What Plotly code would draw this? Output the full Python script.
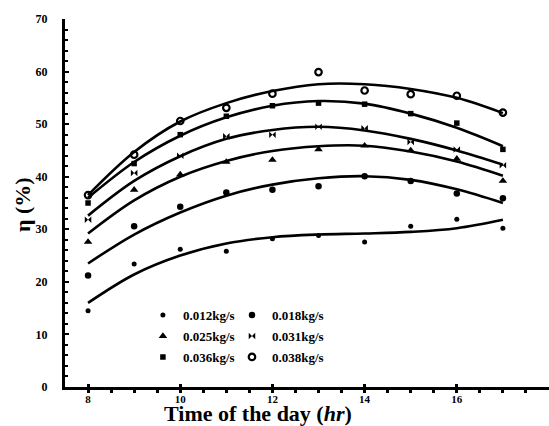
import plotly.graph_objects as go

hours = [8, 9, 10, 11, 12, 13, 14, 15, 16, 17]
series_names = ["0.012kg/s", "0.018kg/s", "0.025kg/s", "0.031kg/s", "0.036kg/s", "0.038kg/s"]

# measured efficiency points (%)
eta_012 = [14.5, 23.4, 26.2, 25.8, 28.2, 28.8, 27.6, 30.6, 31.9, 30.2]
eta_018 = [21.2, 30.6, 34.3, 37.0, 37.5, 38.2, 40.1, 39.2, 36.8, 35.9]
eta_025 = [27.6, 37.5, 40.4, 42.8, 43.2, 45.2, 45.9, 45.0, 43.4, 39.2]
eta_031 = [31.8, 40.7, 44.0, 47.7, 48.0, 49.5, 49.2, 46.6, 45.2, 42.2]
eta_036 = [35.0, 42.5, 48.0, 51.5, 53.5, 54.0, 53.8, 52.0, 50.2, 45.2]
eta_038 = [36.5, 44.2, 50.6, 53.1, 55.8, 59.9, 56.4, 55.7, 55.4, 52.2]

# fitted trend curves (%)
fit_012 = [16.0, 21.4, 25.0, 27.3, 28.5, 29.0, 29.2, 29.5, 30.2, 31.8]
fit_018 = [23.5, 29.0, 33.2, 36.4, 38.5, 39.7, 40.1, 39.4, 37.6, 35.0]
fit_025 = [29.2, 35.5, 40.0, 43.0, 44.9, 45.8, 45.9, 44.8, 42.9, 40.2]
fit_031 = [32.6, 39.2, 43.9, 47.2, 48.9, 49.5, 48.8, 47.2, 45.0, 42.3]
fit_036 = [36.0, 42.8, 47.8, 51.3, 53.5, 54.4, 53.9, 52.0, 49.3, 45.8]
fit_038 = [36.5, 44.7, 50.5, 54.0, 56.3, 57.6, 57.6, 56.7, 55.0, 52.1]

y_ticks = [0, 10, 20, 30, 40, 50, 60, 70]
x_ticks = [8, 10, 12, 14, 16]

points = [eta_012, eta_018, eta_025, eta_031, eta_036, eta_038]
fits = [fit_012, fit_018, fit_025, fit_031, fit_036, fit_038]

styles = [
    dict(symbol="circle", size=5, color="black", line=dict(width=0)),
    dict(symbol="circle", size=6.5, color="black", line=dict(width=0)),
    dict(symbol="triangle-up", size=7.5, color="black", line=dict(width=0)),
    dict(symbol="bowtie", size=6.5, color="black", line=dict(width=0)),
    dict(symbol="square", size=5.5, color="black", line=dict(width=0)),
    dict(symbol="circle-open", size=6.5, color="black", line=dict(width=2.2, color="black")),
]
legends = ["legend", "legend2", "legend", "legend2", "legend", "legend2"]

SERIF = "Liberation Serif, Times New Roman, serif"

fig = go.Figure()
for name, fit in zip(series_names, fits):
    fig.add_trace(go.Scatter(
        x=hours, y=fit, mode="lines", showlegend=False, hoverinfo="skip",
        line=dict(color="black", width=2.6, shape="spline", smoothing=1.0),
    ))
for i, (name, pts) in enumerate(zip(series_names, points)):
    fig.add_trace(go.Scatter(
        x=hours, y=pts, mode="markers", name=name, marker=styles[i],
        legend=legends[i], legendgroup=name,
    ))

legend_common = dict(
    bgcolor="rgba(0,0,0,0)", borderwidth=0,
    font=dict(family=SERIF, size=13, color="black", weight="bold"),
    tracegroupgap=1, itemwidth=30, yanchor="top", xanchor="left",
)

fig.update_layout(
    width=549, height=426,
    margin=dict(l=65, r=0, t=19, b=39),
    paper_bgcolor="white", plot_bgcolor="white",
    showlegend=True,
    legend=dict(x=0.161, y=0.236, **legend_common),
    legend2=dict(x=0.345, y=0.236, **legend_common),
    xaxis=dict(
        range=[7.5, 18.0], tickvals=x_ticks, ticktext=[str(v) for v in x_ticks],
        showgrid=False, zeroline=False, showline=True, linecolor="black", linewidth=3,
        ticks="inside", ticklen=3, tickwidth=3, tickcolor="black",
        minor=dict(dtick=0.5, tick0=8, ticks="outside", ticklen=3, tickwidth=3, tickcolor="black"),
        tickfont=dict(family=SERIF, size=11, color="black", weight="bold"),
        ticklabelstandoff=0,
    ),
    yaxis=dict(
        range=[0, 70], tickvals=y_ticks, ticktext=[str(v) for v in y_ticks],
        showgrid=False, zeroline=False, showline=True, linecolor="black", linewidth=3,
        ticks="inside", ticklen=4, tickwidth=2, tickcolor="black",
        minor=dict(dtick=2, ticks="inside", ticklen=3, tickwidth=2, tickcolor="black"),
        tickfont=dict(family=SERIF, size=12, color="black", weight="bold"),
        ticklabelstandoff=12,
    ),
    annotations=[
        dict(text="Time of the day (<i>hr</i>)", xref="paper", yref="paper",
             x=(258 - 65) / 484, y=(387 - 427) / 368, xanchor="center", yanchor="bottom",
             showarrow=False, borderpad=0,
             font=dict(family=SERIF, size=22, color="black", weight="bold")),
        dict(text="η (%)", xref="paper", yref="paper",
             x=(22 - 65) / 484, y=(387 - 205) / 368, xanchor="center", yanchor="middle",
             textangle=-90, showarrow=False,
             font=dict(family=SERIF, size=22, color="black", weight="bold")),
    ],
)

fig.write_html("out.html", config={"displayModeBar": False},
               post_script="document.body.style.margin='0';document.body.style.padding='0';")
